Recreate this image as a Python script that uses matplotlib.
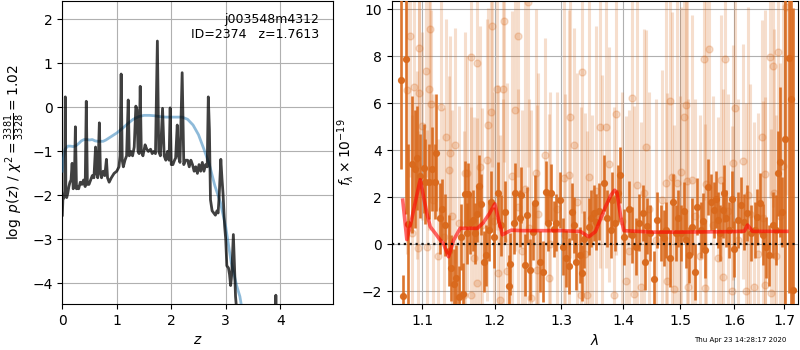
import matplotlib
matplotlib.use("Agg")
import matplotlib.pyplot as plt
from matplotlib.ticker import FixedLocator, FormatStrFormatter, NullLocator

# ---------------- left panel: log p(z) ----------------
pz_z = [0.00, 0.01, 0.03, 0.045, 0.055, 0.065, 0.08, 0.10, 0.12, 0.14, 0.16, 0.18, 0.20, 0.22,
        0.24, 0.26, 0.28, 0.30, 0.33, 0.36, 0.39, 0.42, 0.44, 0.46, 0.49, 0.52, 0.55, 0.58,
        0.61, 0.63, 0.65, 0.68, 0.70, 0.72, 0.75, 0.78, 0.81, 0.83, 0.86, 0.90, 0.95, 1.00,
        1.04, 1.06, 1.08, 1.10, 1.12, 1.15, 1.18, 1.21, 1.23, 1.26, 1.29, 1.32, 1.35, 1.37,
        1.39, 1.41, 1.43, 1.45, 1.48, 1.52, 1.55, 1.58, 1.62, 1.65, 1.68, 1.71, 1.745, 1.77,
        1.80, 1.84, 1.87, 1.90, 1.93, 1.96, 1.98, 2.00, 2.03, 2.06, 2.08, 2.11, 2.13, 2.16,
        2.20, 2.23, 2.26, 2.30, 2.33, 2.36, 2.39, 2.42, 2.45, 2.48, 2.51, 2.54, 2.57, 2.60,
        2.63, 2.66, 2.68, 2.70, 2.72, 2.75, 2.78, 2.81, 2.84, 2.86, 2.88, 2.91, 2.93, 2.95,
        2.98, 3.00, 3.02, 3.05, 3.07, 3.09, 3.11, 3.14, 3.16, 3.18, 3.20, 3.25, 3.90, 3.92,
        3.94, 4.97]
pz_val = [-2.45, -2.10, -2.05, -1.90, 0.24, -1.90, -2.05, -1.95, -1.80, -1.70, -1.65, -1.27, -1.85, -1.75,
          -0.44, -1.85, -1.80, -1.85, -1.70, -1.75, -1.65, -1.80, 0.14, -1.75, -1.75, -1.65, -1.55, -1.60,
          -0.90, -1.50, -1.60, -0.35, -1.50, -1.60, -1.45, -1.55, -1.18, -1.60, -1.70, -1.60, -1.50, -1.45,
          -1.35, -1.10, 0.76, -1.20, -1.35, -1.20, -1.10, 0.17, -1.10, -1.00, -1.10, -0.90, 0.03, -0.05,
          -1.00, -1.05, 0.48, -1.00, -1.10, -0.85, -0.95, -1.00, -0.95, -1.05, -1.00, -1.05, 1.51, -1.00,
          -1.10, -0.02, -1.10, -1.20, -1.00, -1.20, -0.01, -1.30, -1.30, -1.20, -1.15, -0.40, -1.10, -1.25,
          0.79, -1.30, -1.20, -1.20, -1.35, -1.20, -1.30, -1.45, -1.35, -1.50, -1.30, -1.45, -1.25, -1.45,
          -1.30, -1.35, 0.24, -0.50, -2.10, -2.35, -2.40, -2.45, -2.35, -2.40, -2.00, -1.18, -1.60, -1.95,
          -2.70, -3.00, -3.60, -3.65, -3.80, -4.05, -3.80, -2.89, -3.60, -4.30, -4.60, -5.00, -5.50, -4.27,
          -5.50, -5.50]

chi_z = [0.00, 0.02, 0.05, 0.10, 0.15, 0.20, 0.25, 0.30, 0.35, 0.40, 0.45, 0.50, 0.55, 0.60, 0.65,
         0.70, 0.75, 0.80, 0.85, 0.90, 0.95, 1.00, 1.10, 1.20, 1.30, 1.40, 1.50, 1.60, 1.70, 1.80,
         1.90, 2.00, 2.10, 2.20, 2.30, 2.40, 2.50, 2.60, 2.70, 2.80, 2.90, 3.00, 3.10, 3.20, 3.26, 3.30]
chi_val = [-1.45, -1.15, -0.95, -0.88, -0.88, -0.89, -0.87, -0.82, -0.76, -0.73, -0.73, -0.74, -0.73, -0.76, -0.77,
           -0.77, -0.77, -0.74, -0.70, -0.66, -0.62, -0.58, -0.48, -0.37, -0.27, -0.21, -0.18, -0.18, -0.19, -0.21,
           -0.22, -0.22, -0.22, -0.22, -0.27, -0.40, -0.62, -0.95, -1.30, -1.78, -2.15, -2.72, -3.52, -4.05, -4.30, -4.60]

# ---------------- right panel: spectrum ----------------
dark_wave = [1.0721, 1.0751, 1.0786, 1.0816, 1.0858, 1.0900, 1.0934, 1.0970, 1.1014, 1.1036, 1.1080, 1.1126,
             1.1161, 1.1183, 1.1228, 1.1268, 1.1305, 1.1350, 1.1387, 1.1419, 1.1456, 1.1488, 1.1518, 1.1543,
             1.1581, 1.1602, 1.1619, 1.1651, 1.1683, 1.1721, 1.1749, 1.1778, 1.1796, 1.1839, 1.1877, 1.1913,
             1.1949, 1.1985, 1.2040, 1.2086, 1.2152, 1.2201, 1.2226, 1.2275, 1.2300, 1.2364, 1.2385, 1.2439,
             1.2475, 1.2524, 1.2565, 1.2599, 1.2676, 1.2717, 1.2767, 1.2787, 1.2845, 1.2880, 1.2923, 1.2974,
             1.3021, 1.3079, 1.3121, 1.3169, 1.3195, 1.3238, 1.3291, 1.3329, 1.3355, 1.3435, 1.3479, 1.3528,
             1.3560, 1.3601, 1.3681, 1.3737, 1.3792, 1.3820, 1.3867, 1.3920, 1.3942, 1.4010, 1.4100, 1.4146,
             1.4214, 1.4271, 1.4340, 1.4375, 1.4417, 1.4457, 1.4531, 1.4591, 1.4650, 1.4708, 1.4738, 1.4809,
             1.4868, 1.4917, 1.4966, 1.5007, 1.5067, 1.5111, 1.5158, 1.5220, 1.5268, 1.5312, 1.5373, 1.5416,
             1.5453, 1.5509, 1.5560, 1.5622, 1.5654, 1.5698, 1.5736, 1.5781, 1.5812, 1.5844, 1.5907, 1.5953,
             1.6003, 1.6081, 1.6133, 1.6186, 1.6251, 1.6329, 1.6408, 1.6448, 1.6513, 1.6561, 1.6627, 1.6694,
             1.6762, 1.6829, 1.6864, 1.6917, 1.6951, 1.7013, 1.7089, 1.7136, 1.7171]
dark_flux = [7.00, -2.20, 7.90, 0.86, 3.40, 3.20, 3.67, 2.90, 3.23, 2.66, 2.66, 3.20,
             2.66, 3.90, 1.10, 1.49, 0.82, -0.27, -1.00, -1.69, -1.45, -2.23, 0.30, -2.10,
             2.14, 0.47, 2.14, 0.90, 1.02, 0.47, 1.30, 2.50, 1.71, -0.74, -0.46, 0.60,
             1.81, 0.30, 2.20, 0.80, 1.39, -1.77, -0.84, 0.89, 2.17, 1.10, 2.10, -0.88,
             1.25, -1.09, 0.54, 1.74, -0.74, -1.17, 2.24, 0.92, 2.20, 0.64, 0.92, 1.89,
             -0.10, -0.60, -0.92, 1.39, 0.82, -0.74, -0.46, -1.21, 0.21, 0.75, 1.10, 1.32,
             0.96, 1.40, 2.60, 1.10, 0.61, 1.89, 0.90, 2.17, 2.95, 0.30, 1.49, 0.40,
             -0.10, 0.92, 1.32, -0.74, 0.78, 0.47, -1.49, 1.03, 0.47, 0.26, 0.61, -0.60,
             1.81, 0.47, 1.10, 0.47, 1.43, 0.18, -0.46, 0.75, -1.17, 1.60, 0.61, 1.00,
             -0.24, 2.45, 1.81, 1.46, 1.91, 1.03, 0.49, 1.46, 2.17, 1.10, 0.61, 1.91,
             -0.21, 1.03, 1.67, 0.96, 1.32, 0.47, 0.61, 1.17, 1.74, 0.40, -0.13, -0.46,
             0.82, 0.61, 3.02, 3.51, 1.37, 4.50, 7.93, 6.20, -1.94]
dark_err = [3.8, 0.9, 6.6, 3.4, 2.9, 2.5, 2.2, 1.8, 1.9, 1.8, 1.6, 1.8,
            1.6, 2.5, 1.5, 1.3, 1.3, 1.5, 1.4, 1.5, 1.4, 1.3, 1.4, 1.3,
            1.4, 1.3, 1.3, 1.3, 1.3, 1.3, 1.2, 1.3, 1.3, 1.3, 1.3, 1.3,
            1.3, 1.3, 1.3, 1.3, 1.3, 1.3, 1.3, 1.3, 1.3, 1.2, 1.2, 1.3,
            1.2, 1.3, 1.2, 1.2, 1.3, 1.3, 1.3, 1.2, 1.2, 1.2, 1.2, 1.2,
            1.2, 1.2, 1.2, 1.2, 1.2, 1.2, 1.2, 1.2, 1.2, 1.2, 1.2, 1.2,
            1.2, 1.2, 1.2, 1.2, 1.2, 1.2, 1.2, 1.2, 1.2, 1.2, 1.2, 1.2,
            1.2, 1.2, 1.2, 1.2, 1.2, 1.2, 1.2, 1.2, 1.2, 1.2, 1.2, 1.2,
            1.2, 1.2, 1.2, 1.2, 1.2, 1.2, 1.2, 1.2, 1.2, 1.2, 1.2, 1.2,
            1.2, 1.2, 1.2, 1.2, 1.2, 1.2, 1.2, 1.2, 1.2, 1.2, 1.2, 1.2,
            1.2, 1.2, 1.2, 1.2, 1.2, 1.2, 1.2, 1.2, 1.3, 1.3, 1.3, 1.3,
            1.4, 1.5, 1.8, 3.2, 1.5, 9.0, 10.0, 10.0, 12.0]

light_wave = [1.0795, 1.0838, 1.0891, 1.0948, 1.0957, 1.0990, 1.1049, 1.1080, 1.1094, 1.1112, 1.1249, 1.1319,
              1.1350, 1.1373, 1.1442, 1.1605, 1.1655, 1.1745, 1.1896, 1.1945, 1.1959, 1.2031, 1.2118, 1.2137,
              1.2300, 1.2334, 1.2490, 1.2752, 1.3142, 1.3195, 1.3334, 1.3721, 1.3764, 1.3880, 1.4158, 1.4392,
              1.4815, 1.5067, 1.5098, 1.5434, 1.5528, 1.5831, 1.5973, 1.6023, 1.6166, 1.6541, 1.6708, 1.6768,
              1.6876, 1.7033,
              1.0934, 1.1581, 1.1782, 1.1887, 1.2251, 1.2449, 1.2610, 1.3036, 1.3126, 1.3447, 1.3555, 1.3626,
              1.4243, 1.4357, 1.4738, 1.4858, 1.4935, 1.5007, 1.5129, 1.5220, 1.5475, 1.5749, 1.6264, 1.6613,
              1.6795, 1.6972,
              1.0940, 1.1063, 1.1567, 1.1665, 1.1745, 1.2050, 1.2079, 1.2182, 1.2625, 1.2539, 1.2803, 1.3313,
              1.3410, 1.3847, 1.4056, 1.4185, 1.4300, 1.4768, 1.4886, 1.5144, 1.5453, 1.5781, 1.5959, 1.6231,
              1.6394, 1.6607, 1.6728,
              1.0864, 1.1143, 1.1210, 1.1291, 1.1401, 1.1497, 1.1707, 1.1820, 1.1993, 1.2123, 1.2344, 1.2404,
              1.2509, 1.2645, 1.2829, 1.2938, 1.3063, 1.3254, 1.3382, 1.3495, 1.3659, 1.3976, 1.4095, 1.4439,
              1.4561, 1.4668, 1.4989, 1.5263, 1.5355, 1.5598, 1.5692, 1.5882, 1.6075, 1.6309, 1.6468, 1.6567,
              1.6829, 1.6911]
light_flux = [6.57, 8.86, 6.68, 8.34, 6.45, 5.03, 7.37, 6.60, 9.15, 5.96, 5.86, 4.58,
              3.16, 3.87, 4.21, 3.02, 7.96, 7.70, 5.06, 5.63, 9.29, 6.60, 6.60, 9.52,
              5.71, 8.86, 10.30, 3.79, 5.40, 4.21, 7.34, 5.00, 3.40, 5.54, 6.21, 4.13,
              6.10, 5.43, 5.91, 7.87, 8.30, 7.87, 3.47, 5.79, 3.54, 4.55, 7.96, 7.59,
              8.20, 10.10,
              3.37, 3.05, 3.30, 3.59, 2.91, 2.34, 3.02, 2.81, 2.95, 2.88, 2.27, 5.00,
              2.52, 2.17, 2.60, 2.88, 2.60, 3.09, 2.69, 2.74, 2.55, 2.74, 2.10, 2.98,
              2.17, 3.33,
              -0.17, -0.13, -2.16, -2.16, -1.63, -1.23, -2.37, -1.12, -1.09, -2.30, -1.45, -2.16,
              -2.16, -2.16, -1.56, -2.13, -1.80, -1.56, -1.91, -1.80, -1.87, -1.38, -1.97, -1.97,
              -1.80, -1.73, -2.09,
              0.50, 1.90, -0.50, 0.30, 1.20, 0.90, -0.60, 0.80, 1.00, 0.20, 1.60, -0.30,
              0.70, 1.30, 0.00, 1.50, 0.40, 1.80, -0.40, 0.50, 1.20, 1.00, -0.30, 1.50,
              0.20, 1.90, 0.30, 1.20, -0.50, 0.80, -0.60, 1.40, 0.20, 1.30, -0.40, 1.10,
              -0.50, 1.20]
light_err = [7.0, 6.0, 5.0, 5.0, 4.0, 4.0, 4.5, 6.0, 5.0, 4.0, 5.0, 5.0,
             4.0, 5.0, 5.0, 5.0, 6.0, 6.0, 5.0, 5.0, 6.0, 6.0, 6.0, 6.0,
             6.0, 6.0, 7.0, 5.0, 6.0, 5.0, 6.0, 6.0, 5.0, 6.0, 6.0, 5.0,
             6.0, 5.0, 6.0, 6.0, 6.0, 6.0, 5.0, 6.0, 5.0, 5.0, 6.0, 6.0,
             6.0, 8.0,
             4.0, 6.0, 6.0, 6.0, 7.0, 8.0, 7.0, 8.0, 7.0, 8.0, 7.0, 6.0,
             8.0, 7.0, 8.0, 7.0, 8.0, 7.0, 8.0, 7.0, 8.0, 7.0, 8.0, 7.0,
             7.0, 7.0,
             5.0, 5.0, 7.0, 8.0, 7.0, 8.0, 7.0, 8.0, 7.0, 8.0, 7.0, 8.0,
             7.0, 8.0, 7.0, 8.0, 7.0, 8.0, 7.0, 8.0, 7.0, 8.0, 7.0, 8.0,
             7.0, 8.0, 7.0,
             5.0, 4.5, 5.0, 5.5, 4.5, 5.0, 6.0, 5.0, 5.5, 6.0, 5.0, 6.0,
             5.5, 6.0, 6.5, 5.0, 6.0, 5.5, 6.0, 5.0, 6.0, 5.5, 6.0, 5.0,
             6.0, 5.5, 6.0, 5.0, 6.0, 5.5, 6.0, 5.0, 6.0, 5.5, 6.0, 5.0,
             6.0, 6.5]

model_wave = [1.0742, 1.0795, 1.0860, 1.0926, 1.0970, 1.1014, 1.1058, 1.1103, 1.1170, 1.1237, 1.1280, 1.1350,
              1.1420, 1.1510, 1.1600, 1.1750, 1.1830, 1.1920, 1.2000, 1.2050, 1.2110, 1.2170, 1.2240, 1.2400,
              1.3000, 1.3300, 1.3435, 1.3544, 1.3709, 1.3800, 1.3860, 1.3900, 1.3960, 1.4015, 1.4500, 1.5000,
              1.5500, 1.6000, 1.6200, 1.6264, 1.6360, 1.6600, 1.7050]
model_flux = [1.88, 0.20, 1.10, 2.10, 2.75, 2.03, 1.32, 0.75, 0.47, 0.18, 0.04, -0.53,
              0.18, 0.68, 0.68, 0.68, 0.90, 1.30, 1.72, 1.10, 0.40, 0.50, 0.60, 0.58,
              0.58, 0.55, 0.32, 0.54, 1.60, 2.10, 2.30, 2.20, 1.20, 0.58, 0.52, 0.52,
              0.53, 0.54, 0.56, 0.82, 0.55, 0.55, 0.55]

z_ticks = [0, 1, 2, 3, 4]
lnpz_ticks = [-4, -3, -2, -1, 0, 1, 2]
wave_ticks = [1.1, 1.2, 1.3, 1.4, 1.5, 1.6, 1.7]
flux_ticks = [-2, 0, 2, 4, 6, 8, 10]

title_text = "j003548m4312\nID=2374   z=1.7613"
date_text = "Thu Apr 23 14:28:17 2020"

fig = plt.figure(figsize=(8, 3.5), dpi=100)

# ---- left axes
ax1 = fig.add_axes([0.0779, 0.1314, 0.3384, 0.8657])
ax1.plot(chi_z, chi_val, color='#1f77b4', alpha=0.5, lw=2, zorder=3)
ax1.plot(pz_z, pz_val, color='k', alpha=0.75, lw=2, zorder=4)
ax1.set_xlim(0, 4.97)
ax1.set_ylim(-4.47, 2.42)
ax1.set_xticks(z_ticks)
ax1.set_yticks(lnpz_ticks)
ax1.grid(True)
ax1.set_xlabel(r'$z$')
ax1.set_ylabel(r'$\log\ p(z)$' + ' / ' + r'$\chi^2=\frac{3381}{3328}=1.02$')
ax1.text(0.95, 0.96, title_text, ha='right', va='top', transform=ax1.transAxes,
         fontsize=9, zorder=10)

# ---- right axes
ax2 = fig.add_axes([0.4896, 0.1314, 0.5085, 0.8657])
ocol = '#d9691c'
ax2.errorbar(light_wave, light_flux, yerr=light_err, marker='o', linestyle='none',
             color=ocol, alpha=0.22, markersize=5, elinewidth=2.2, capsize=0, zorder=2)
ax2.errorbar(dark_wave, dark_flux, yerr=dark_err, marker='o', linestyle='none',
             color=ocol, alpha=0.92, markersize=4.2, elinewidth=1.9, capsize=0, zorder=3)
ax2.plot(model_wave, model_flux, color='r', alpha=0.6, lw=2.6, zorder=4)
ax2.axhline(0, color='k', linestyle=':', lw=1.6, alpha=0.9, zorder=5)
ax2.set_xscale('log')
ax2.set_xlim(1.06, 1.729)
ax2.set_ylim(-2.54, 10.35)
ax2.xaxis.set_major_locator(FixedLocator(wave_ticks))
ax2.xaxis.set_major_formatter(FormatStrFormatter('%.1f'))
ax2.xaxis.set_minor_locator(NullLocator())
ax2.set_yticks(flux_ticks)
ax2.grid(True)
ax2.set_xlabel(r'$\lambda$')
ax2.set_ylabel(r'$f_\lambda\times10^{-19}$')

fig.text(0.983, 0.02, date_text, ha='right', va='bottom', fontsize=5)

fig.savefig('out.png', dpi=100)
